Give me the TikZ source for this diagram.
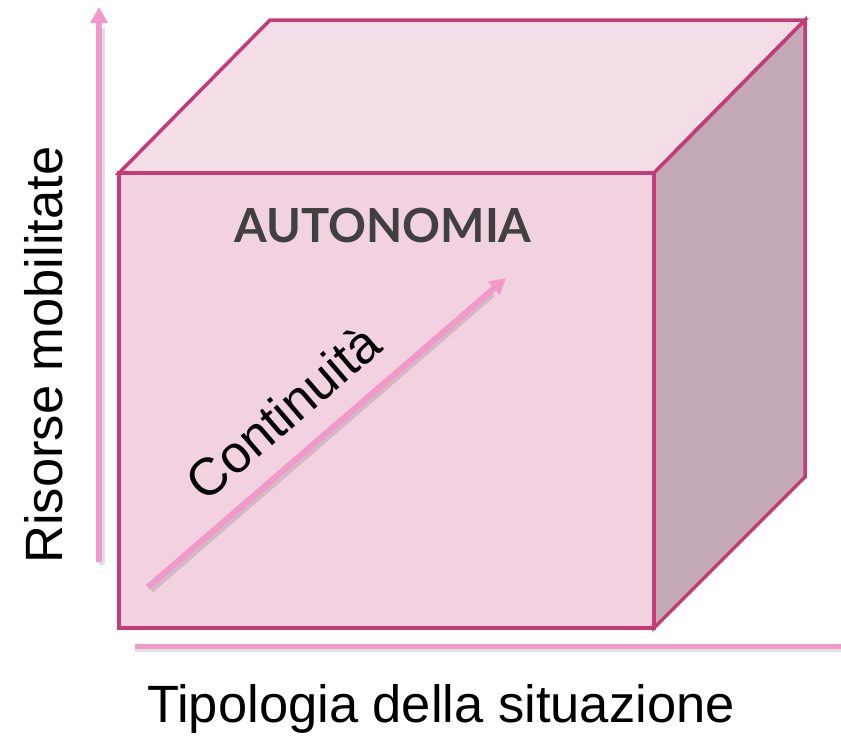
\documentclass[tikz,border=0pt]{standalone}
\usepackage{fontspec}
\setmainfont{Liberation Sans}
\newfontfamily\latofont{Lato}
\usetikzlibrary{arrows.meta}
\definecolor{frontc}{HTML}{F2D2E1}
\definecolor{topc}{HTML}{F3DDE6}
\definecolor{sidec}{HTML}{C3A9B5}
\definecolor{edgec}{HTML}{C33C78}
\definecolor{arrc}{HTML}{F19AC9}
\definecolor{titlec}{HTML}{404040}
\tikzset{
  face/.style={draw=edgec, line width=3.5pt, line join=miter},
  pinkarrow/.style={draw=arrc, line width=6pt, -{Triangle[length=16pt,width=17pt]}},
  pinkline/.style={draw=arrc, line width=5pt},
  shadowline/.style={draw=black, opacity=0.12, line width=6pt},
  lbl/.style={inner sep=0pt, font=\fontsize{52.5}{60}\selectfont, text=black}
}
\begin{document}
\begin{tikzpicture}[x=1pt,y=-1pt]
\useasboundingbox (0,0) rectangle (841,737);
% cube corners
\coordinate (FTL) at (119,173);
\coordinate (FTR) at (654,173);
\coordinate (FBR) at (654,628);
\coordinate (FBL) at (119,628);
\coordinate (BTL) at (270,20);
\coordinate (BTR) at (805,20);
\coordinate (BBR) at (805,477);
% faces
\filldraw[face, fill=topc] (FTL) -- (BTL) -- (BTR) -- (FTR) -- cycle;
\filldraw[face, fill=sidec] (FTR) -- (BTR) -- (BBR) -- (FBR) -- cycle;
\filldraw[face, fill=frontc] (FTL) -- (FTR) -- (FBR) -- (FBL) -- cycle;
% axes
\coordinate (vS) at (99,562);
\coordinate (vE) at (99,7);
\coordinate (vSs) at (102,565);
\coordinate (vEs) at (102,28);
\coordinate (hS) at (135,646);
\coordinate (hE) at (841,646);
\coordinate (hSs) at (135,649);
\coordinate (hEs) at (841,649);
\coordinate (dS) at (148,587);
\coordinate (dE) at (506,278);
\coordinate (dSs) at (151,590);
\coordinate (dEs) at (493,294);
\draw[shadowline] (vSs) -- (vEs);
\draw[pinkarrow] (vS) -- (vE);
\draw[shadowline] (hSs) -- (hEs);
\draw[pinkline] (hS) -- (hE);
\draw[shadowline] (dSs) -- (dEs);
\draw[pinkarrow] (dS) -- (dE);
% labels
\node[inner sep=0pt, text=titlec, font=\latofont\bfseries\fontsize{47}{56}\selectfont] (title) at (383,226) {AUTONOMIA};
\node[lbl, rotate=90] (yl) at (44,355) {Risorse mobilitate};
\node[lbl] (xl) at (441,709) {Tipologia della situazione};
\node[lbl, rotate=40.7] (cl) at (283,412) {Continuità};
\end{tikzpicture}
\end{document}
